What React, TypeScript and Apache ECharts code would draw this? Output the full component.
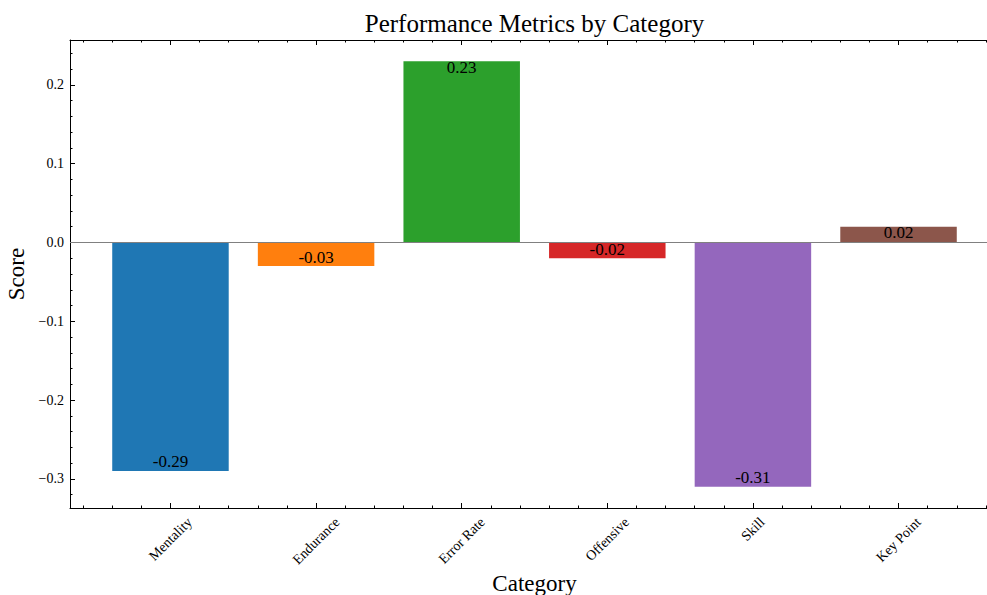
import React, { useEffect, useRef } from 'react';
import * as echarts from 'echarts';

const categories = ['Mentality', 'Endurance', 'Error Rate', 'Offensive', 'Skill', 'Key Point'];
const scores = [-0.29, -0.03, 0.23, -0.02, -0.31, 0.02];
const barColors = ['#1f77b4', '#ff7f0e', '#2ca02c', '#d62728', '#9467bd', '#8c564b'];
const yMajorTicks = [-0.3, -0.2, -0.1, 0.0, 0.1, 0.2];
const yMinorTicks = [
  -0.32, -0.28, -0.26, -0.24, -0.22, -0.18, -0.16, -0.14, -0.12, -0.08, -0.06, -0.04, -0.02,
  0.02, 0.04, 0.06, 0.08, 0.12, 0.14, 0.16, 0.18, 0.22, 0.24,
];
const xMajorTicks = [0, 1, 2, 3, 4, 5];
const xMinorTicks = [
  -0.6, -0.4, -0.2, 0.2, 0.4, 0.6, 0.8, 1.2, 1.4, 1.6, 1.8, 2.2, 2.4, 2.6, 2.8,
  3.2, 3.4, 3.6, 3.8, 4.2, 4.4, 4.6, 4.8, 5.2, 5.4, 5.6,
];

const X_MIN = -0.69;
const X_MAX = 5.69;
const Y_MIN = -0.337;
const Y_MAX = 0.257;
const BAR_WIDTH = 0.8;
const FONT = '"Liberation Serif", "Times New Roman", serif';

let measureCtx: CanvasRenderingContext2D | null = null;
function measure(text: string, size: number): number {
  if (!measureCtx) {
    const c = document.createElement('canvas');
    measureCtx = c.getContext('2d');
  }
  if (!measureCtx) return text.length * size * 0.45;
  measureCtx.font = `${size}px "Liberation Serif"`;
  return measureCtx.measureText(text).width;
}

const tickFmt = (v: number) => v.toFixed(1).replace('-', '\u2212');

export default function App() {
  const ref = useRef<HTMLDivElement>(null);

  useEffect(() => {
    if (!ref.current) return;
    const chart = echarts.init(ref.current, null, { renderer: 'svg' });

    const xAxisBase = (position: 'bottom' | 'top', ticks: number[], len: number, line: boolean) => ({
      type: 'value',
      position,
      min: X_MIN,
      max: X_MAX,
      axisLine: { show: line, onZero: false, lineStyle: { color: '#000', width: 1 } },
      axisTick: { show: true, inside: true, length: len, customValues: ticks, lineStyle: { color: '#000', width: 1 } },
      axisLabel: { show: false },
      splitLine: { show: false },
    });

    const yAxisBase = (ticks: number[], len: number, line: boolean, label: boolean) => ({
      type: 'value',
      position: 'left',
      min: Y_MIN,
      max: Y_MAX,
      axisLine: { show: line, onZero: false, lineStyle: { color: '#000', width: 1 } },
      axisTick: { show: true, inside: true, length: len, customValues: ticks, lineStyle: { color: '#000', width: 1 } },
      axisLabel: label
        ? {
            show: true,
            customValues: ticks,
            formatter: (v: number) => tickFmt(v),
            margin: 6,
            fontFamily: FONT,
            fontSize: 14,
            color: '#000',
          }
        : { show: false },
      splitLine: { show: false },
    });

    const data = categories.map((c, i) => [i, scores[i]]);

    const option: any = {
      animation: false,
      backgroundColor: '#fff',
      title: {
        text: 'Performance Metrics by Category',
        left: 534.5,
        textAlign: 'center',
        top: 11,
        padding: 0,
        textStyle: { fontFamily: FONT, fontSize: 25, fontWeight: 'normal', color: '#000' },
      },
      grid: { left: 70, right: -12, top: 40, bottom: 87, containLabel: false, outerBoundsMode: 'none' },
      xAxis: [
        {
          ...xAxisBase('bottom', xMajorTicks, 5, true),
          name: 'Category',
          nameLocation: 'middle',
          nameGap: 75,
          nameTextStyle: { fontFamily: FONT, fontSize: 23, color: '#000', verticalAlign: 'middle' },
        },
        xAxisBase('bottom', xMinorTicks, 2.5, false),
        xAxisBase('top', xMajorTicks, 5, true),
        xAxisBase('top', xMinorTicks, 2.5, false),
      ],
      yAxis: [
        {
          ...yAxisBase(yMajorTicks, 5, true, true),
          name: 'Score',
          nameLocation: 'middle',
          nameGap: 50,
          nameTextStyle: { fontFamily: FONT, fontSize: 23, color: '#000', verticalAlign: 'middle' },
        },
        yAxisBase(yMinorTicks, 2.5, false, false),
      ],
      series: [
        {
          type: 'custom',
          xAxisIndex: 0,
          yAxisIndex: 0,
          clip: false,
          data,
          renderItem: (params: any, api: any) => {
            const i = api.value(0);
            const v = api.value(1);
            const a = api.coord([i - BAR_WIDTH / 2, v]);
            const b = api.coord([i + BAR_WIDTH / 2, 0]);
            const x = Math.min(a[0], b[0]);
            const y = Math.min(a[1], b[1]);
            const w = Math.abs(b[0] - a[0]);
            const h = Math.abs(b[1] - a[1]);
            const center = api.coord([i, 0]);
            const bottom = api.coord([i, Y_MIN]);
            const ly = v >= 0 ? a[1] + 6 : a[1] - 9;
            const name = categories[params.dataIndex];
            const tw = measure(name, 14);
            const th = 13.6;
            const cy = bottom[1] + 7 + (tw + th) / (2 * Math.SQRT2);
            return {
              type: 'group',
              children: [
                {
                  type: 'rect',
                  shape: { x, y, width: w, height: h },
                  style: { fill: barColors[params.dataIndex] },
                },
                {
                  type: 'text',
                  x: center[0],
                  y: ly,
                  z2: 10,
                  style: {
                    text: v.toFixed(2),
                    fill: '#000',
                    fontFamily: FONT,
                    fontSize: 17,
                    align: 'center',
                    verticalAlign: 'middle',
                  },
                },
                {
                  type: 'text',
                  x: center[0],
                  y: cy,
                  rotation: Math.PI / 4,
                  style: {
                    text: name,
                    fill: '#000',
                    fontFamily: FONT,
                    fontSize: 14,
                    align: 'center',
                    verticalAlign: 'middle',
                  },
                },
              ],
            };
          },
          markLine: {
            silent: true,
            symbol: 'none',
            label: { show: false },
            lineStyle: { color: '#808080', width: 1, type: 'solid' },
            data: [{ yAxis: 0 }],
          },
        },
      ],
    };

    chart.setOption(option);
    return () => chart.dispose();
  }, []);

  return (
    <div
      ref={ref}
      style={{ position: 'fixed', left: 0, top: 0, width: 987, height: 595, background: '#fff' }}
    />
  );
}
